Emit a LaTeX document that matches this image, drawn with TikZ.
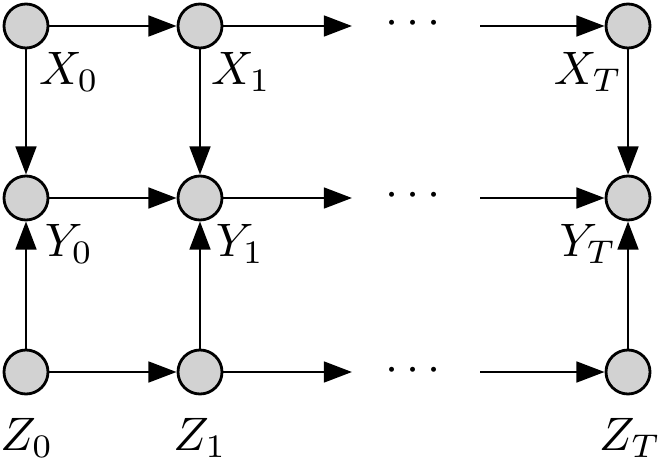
\documentclass[tikz,border=0pt]{standalone}
\usetikzlibrary{arrows.meta}
\newlength{\du}
\setlength{\du}{0.213pt}
\tikzset{
  var/.style={circle,draw,fill=gray!35,line width=0.6pt,minimum size=44\du,inner sep=0pt},
  lab/.style={inner sep=0pt},
  edge/.style={line width=0.6pt,-{Triangle[length=6pt,width=4.4pt]}}
}
\begin{document}
\begin{tikzpicture}[yscale=-1]
\useasboundingbox (0\du,0\du) rectangle (664\du,459\du);
% nodes
\node[var] (x0) at (26\du,26\du){};
\node[var] (x1) at (200\du,26\du){};
\node[var] (xT) at (628\du,26\du){};
\node[var] (y0) at (26\du,198\du){};
\node[var] (y1) at (200\du,198\du){};
\node[var] (yT) at (628\du,198\du){};
\node[var] (z0) at (26\du,372\du){};
\node[var] (z1) at (200\du,372\du){};
\node[var] (zT) at (628\du,372\du){};
% labels
\node[lab] (lx0) at (69\du,72\du){$X_0$};
\node[lab] (lx1) at (241\du,72\du){$X_1$};
\node[lab] (lxT) at (588\du,72\du){$X_T$};
\node[lab] (ly0) at (69\du,244\du){$Y_0$};
\node[lab] (ly1) at (240\du,244\du){$Y_1$};
\node[lab] (lyT) at (588\du,244\du){$Y_T$};
\node[lab] (lz0) at (27\du,438\du){$Z_0$};
\node[lab] (lz1) at (200\du,438\du){$Z_1$};
\node[lab] (lzT) at (630\du,438\du){$Z_T$};
% dots
\node[lab,anchor=base] (dx) at (413\du,35\du){$\cdots$};
\node[lab,anchor=base] (dy) at (413\du,207\du){$\cdots$};
\node[lab,anchor=base] (dz) at (413\du,381\du){$\cdots$};
\coordinate (ex) at (352\du,26\du);
\coordinate (ey) at (352\du,198\du);
\coordinate (ez) at (352\du,372\du);
\coordinate (sx) at (480\du,26\du);
\coordinate (sy) at (480\du,198\du);
\coordinate (sz) at (480\du,372\du);
% horizontal edges
\draw[edge] (x0) -- (x1);
\draw[edge] (x1) -- (ex);
\draw[edge] (sx) -- (xT);
\draw[edge] (y0) -- (y1);
\draw[edge] (y1) -- (ey);
\draw[edge] (sy) -- (yT);
\draw[edge] (z0) -- (z1);
\draw[edge] (z1) -- (ez);
\draw[edge] (sz) -- (zT);
% vertical edges
\draw[edge] (x0) -- (y0);
\draw[edge] (x1) -- (y1);
\draw[edge] (xT) -- (yT);
\draw[edge] (z0) -- (y0);
\draw[edge] (z1) -- (y1);
\draw[edge] (zT) -- (yT);
\end{tikzpicture}
\end{document}
